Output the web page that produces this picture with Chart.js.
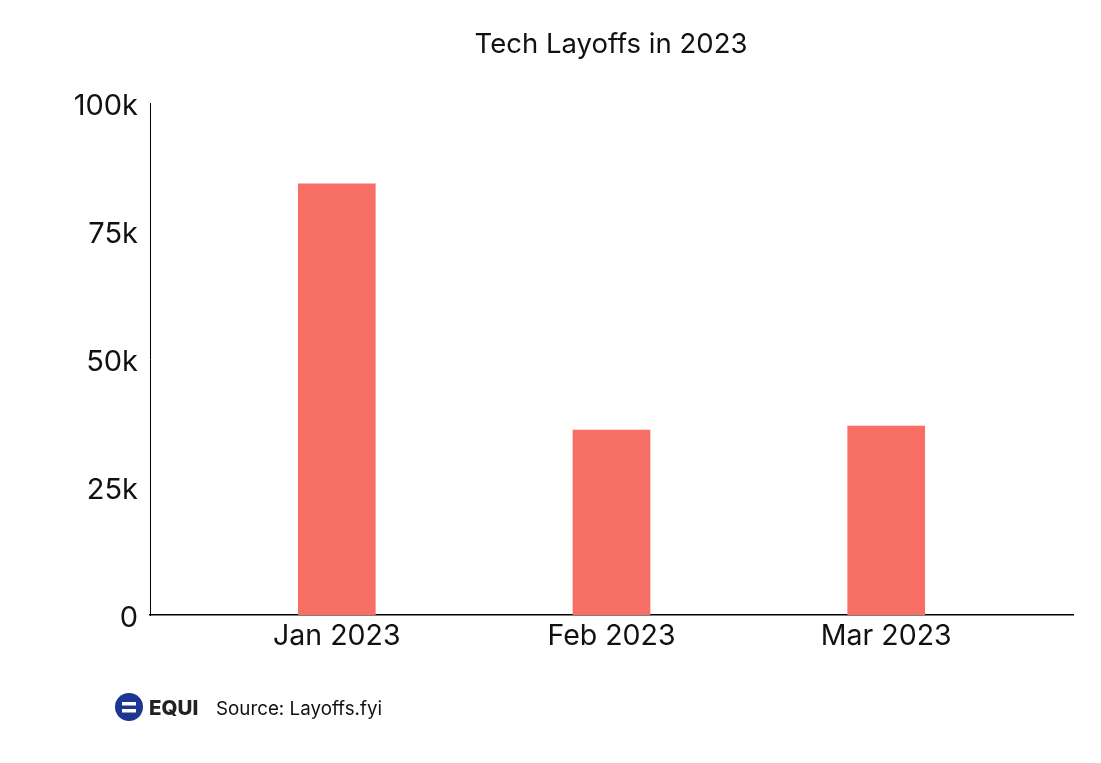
<!DOCTYPE html>
<html>
<head>
<meta charset="utf-8">
<script src="https://cdn.jsdelivr.net/npm/chart.js@4"></script>
<style>
  html, body { margin: 0; padding: 0; background: #fff; }
  #wrap { width: 1101px; height: 763px; position: relative; }
</style>
</head>
<body>
<div id="wrap"><canvas id="c"></canvas></div>
<script>
const categories = ["Jan 2023", "Feb 2023", "Mar 2023"];
const layoffs = [84200, 36100, 36900];
const yTicks = [0, 25000, 50000, 75000, 100000];
const yTickLabels = ["0", "25k", "50k", "75k", "100k"];
const titleText = "Tech Layoffs in 2023";
const sourceText = "Source: Layoffs.fyi";
const brandText = "EQUI";

const FONT = "Inter, 'Noto Sans', sans-serif";

const overlay = {
  id: 'overlay',
  afterDraw(chart) {
    const ctx = chart.ctx;
    ctx.save();
    // title
    ctx.fillStyle = '#111';
    ctx.font = "400 27.5px " + FONT;
    ctx.textAlign = 'center';
    ctx.textBaseline = 'middle';
    ctx.fillText(titleText, 611, 45);
    // logo
    ctx.beginPath();
    ctx.arc(129, 707, 14, 0, Math.PI * 2);
    ctx.fillStyle = '#1b3791';
    ctx.fill();
    ctx.fillStyle = '#fff';
    ctx.fillRect(122, 702, 14, 3.5);
    ctx.fillRect(122, 709, 14, 3.5);
    ctx.fillStyle = '#222';
    ctx.font = "800 20.5px " + FONT;
    ctx.textAlign = 'left';
    ctx.fillText(brandText, 149, 709);
    ctx.fillStyle = '#111';
    ctx.font = "400 18.8px " + FONT;
    ctx.fillText(sourceText, 216, 709);
    ctx.restore();
  }
};

new Chart(document.getElementById('c'), {
  type: 'bar',
  data: {
    datasets: [{
      data: layoffs.map((v, i) => ({ x: i, y: v })),
      backgroundColor: '#f76e65',
      borderWidth: 0,
      barThickness: 77
    }]
  },
  options: {
    responsive: true,
    maintainAspectRatio: false,
    animation: false,
    devicePixelRatio: 1,
    layout: { padding: { top: 103, right: 28, left: 0, bottom: 0 } },
    plugins: { legend: { display: false }, tooltip: { enabled: false }, title: { display: false } },
    scales: {
      x: {
        type: 'linear',
        offset: false,
        min: -0.68,
        max: 2.68,
        grid: { display: false, offset: false },
        border: { display: true, color: '#000', width: 1.4 },
        afterBuildTicks: (s) => { s.ticks = categories.map((c, i) => ({ value: i })); },
        afterFit: (s) => { s.height = 148; },
        ticks: {
          padding: -4,
          color: '#111',
          font: { family: FONT, size: 28.5 },
          callback: (v) => categories[v] ?? ''
        }
      },
      y: {
        min: 0,
        max: 100000,
        grid: { display: false },
        border: { display: true, color: '#000', width: 1 },
        afterBuildTicks: (s) => { s.ticks = yTicks.map(v => ({ value: v })); },
        afterFit: (s) => { s.width = 150; },
        ticks: {
          padding: 4,
          labelOffset: 3,
          color: '#111',
          font: { family: FONT, size: 29 },
          callback: (v) => yTickLabels[yTicks.indexOf(v)]
        }
      }
    }
  },
  plugins: [overlay]
});
</script>
</body>
</html>
